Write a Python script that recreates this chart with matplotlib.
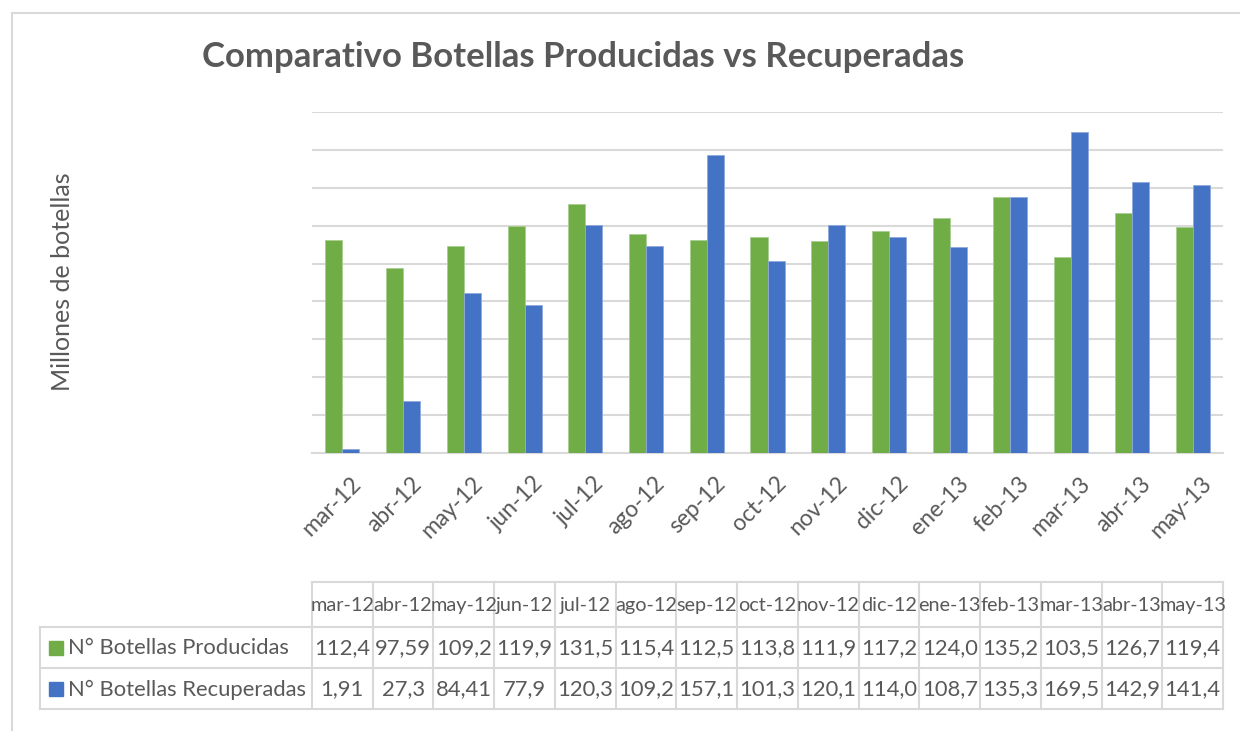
import matplotlib
matplotlib.use("Agg")
import matplotlib.pyplot as plt
import matplotlib.transforms as mtransforms
from matplotlib.patches import Rectangle

# data
meses = ["mar-12", "abr-12", "may-12", "jun-12", "jul-12", "ago-12", "sep-12", "oct-12",
         "nov-12", "dic-12", "ene-13", "feb-13", "mar-13", "abr-13", "may-13"]
producidas = [112.4, 97.59, 109.2, 119.9, 131.5, 115.4, 112.5, 113.8,
              111.9, 117.2, 124.0, 135.2, 103.5, 126.7, 119.4]
recuperadas = [1.91, 27.3, 84.41, 77.9, 120.3, 109.2, 157.1, 101.3,
               120.1, 114.0, 108.7, 135.3, 169.5, 142.9, 141.4]
series_names = ["N° Botellas Producidas", "N° Botellas Recuperadas"]

GREEN = "#70AD47"
BLUE = "#4472C4"
GRID = "#D9D9D9"
TXT = "#595959"

plt.rcParams['font.family'] = ['Lato', 'DejaVu Sans']

W, H = 1240, 731
fig = plt.figure(figsize=(W / 100, H / 100), dpi=100)

def fx(px):
    return px / W

def fy(py):
    return 1 - py / H

# outer chart frame
fig.patches.append(Rectangle((fx(12), fy(740)), fx(1240), fy(13) - fy(740), transform=fig.transFigure,
                             fill=False, edgecolor=GRID, lw=1.5))

# bar axes
left, right, top, base = 312, 1223, 112, 453
ax = fig.add_axes([fx(left), fy(base), fx(right - left), fy(top) - fy(base)])
n = len(meses)
x = list(range(n))
bw = 0.28
ax.bar([i - bw / 2 for i in x], producidas, bw, color=GREEN, edgecolor="#A9CF8F", lw=0.6, zorder=3)
ax.bar([i + bw / 2 for i in x], recuperadas, bw, color=BLUE, edgecolor="#8FAADC", lw=0.6, zorder=3)
ax.set_xlim(-0.5, n - 0.5)
ax.set_ylim(0, 180)
ax.set_yticks(range(0, 181, 20))
ax.yaxis.grid(True, color=GRID, lw=1.5, zorder=0)
ax.tick_params(axis="y", length=0, labelleft=False)
ax.tick_params(axis="x", length=0, pad=10)
for s in ["top", "right", "left"]:
    ax.spines[s].set_visible(False)
ax.spines["bottom"].set_color(GRID)
ax.spines["bottom"].set_linewidth(1.5)
ax.set_xticks(x)
ax.set_xticklabels(meses, rotation=45, ha="right", rotation_mode="anchor", fontsize=16.5, color=TXT)
shift = mtransforms.ScaledTranslation(8 / 100, -6 / 100, fig.dpi_scale_trans)
for lab in ax.get_xticklabels():
    lab.set_transform(lab.get_transform() + shift)

fig.text(fx(583), fy(57), "Comparativo Botellas Producidas vs Recuperadas", ha="center", va="center",
         fontsize=25, fontweight="bold", color=TXT)
fig.text(fx(63), fy(282), "Millones de botellas", rotation=90, ha="center", va="center",
         fontsize=18, color=TXT)

# data table
tax = fig.add_axes([0, 0, 1, 1])
tax.set_xlim(0, W)
tax.set_ylim(H, 0)
tax.axis("off")
t_left = 40
rows_y = [582, 627, 668, 709]
colw = (right - left) / n
col_x = [left + colw * i for i in range(n + 1)]
lc = dict(color=GRID, lw=1.5)
tax.plot([left, right], [rows_y[0]] * 2, **lc)
for yy in rows_y[1:]:
    tax.plot([t_left, right], [yy] * 2, **lc)
tax.plot([t_left, t_left], [rows_y[1], rows_y[3]], **lc)
for xx in col_x:
    tax.plot([xx, xx], [rows_y[0], rows_y[3]], **lc)

def fmt(v):
    s = f"{v:.1f}" if v >= 100 else repr(v)
    return s.replace(".", ",")

fs = 15.8
for i, m in enumerate(meses):
    cx = col_x[i] + colw / 2
    tax.text(cx, (rows_y[0] + rows_y[1]) / 2 + 1, m, ha="center", va="center", fontsize=14.3, color=TXT)
    tax.text(cx, (rows_y[1] + rows_y[2]) / 2 + 1, fmt(producidas[i]), ha="center", va="center",
             fontsize=fs, color=TXT)
    tax.text(cx, (rows_y[2] + rows_y[3]) / 2 + 1, fmt(recuperadas[i]), ha="center", va="center",
             fontsize=fs, color=TXT)

for r, (name, col) in enumerate(zip(series_names, [GREEN, BLUE])):
    cy = (rows_y[r + 1] + rows_y[r + 2]) / 2
    tax.add_patch(Rectangle((49, cy - 7), 14, 14, color=col))
    tax.text(68, cy + 1, name, ha="left", va="center", fontsize=fs, color=TXT)

fig.savefig("out.png", dpi=100)
